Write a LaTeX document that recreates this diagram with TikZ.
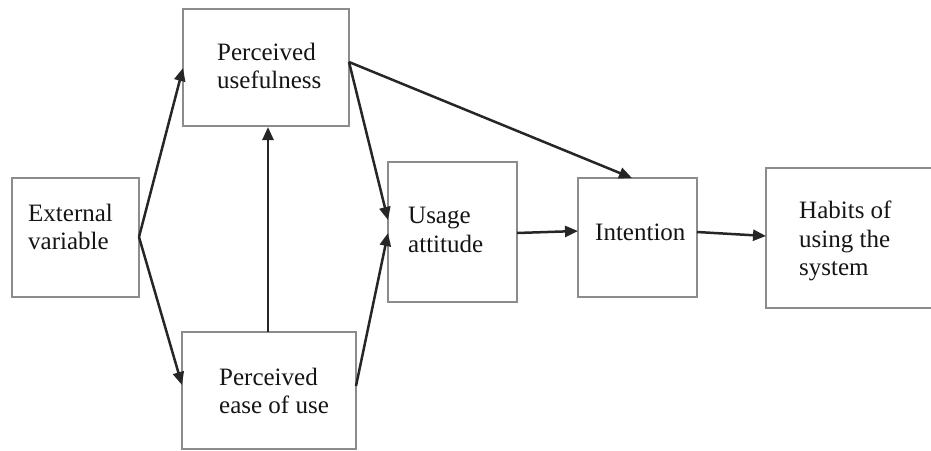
\documentclass[tikz,border=0pt]{standalone}
\usepackage{fontspec}
\setmainfont{Liberation Serif}
\usetikzlibrary{arrows.meta}

\definecolor{boxgray}{HTML}{8C8C8C}
\definecolor{inkline}{HTML}{262626}
\definecolor{inktext}{HTML}{151515}

\begin{document}
\begin{tikzpicture}[x=1pt, y=-1pt,
  box/.style={draw=boxgray, line width=2pt, fill=white, rectangle, inner sep=0pt},
  txt/.style={inner sep=0pt, anchor=west, align=left, text=inktext,
              font=\fontsize{25}{28.5}\selectfont},
  link/.style={draw=inkline, line width=2.5pt,
               -{Triangle[length=13pt, width=11pt]}}
]
  \useasboundingbox (0,0) rectangle (931,450);

  % boxes
  \node[box, minimum width=127pt, minimum height=119pt] (ext) at (75.5,237.5) {};
  \node[box, minimum width=166pt, minimum height=117pt] (pu)  at (266,67.5) {};
  \node[box, minimum width=174pt, minimum height=117pt] (peu) at (269,390.5) {};
  \node[box, minimum width=129pt, minimum height=140pt] (ua)  at (452.5,232) {};
  \node[box, minimum width=119pt, minimum height=119pt] (int) at (637.5,237.5) {};
  \node[box, minimum width=180pt, minimum height=140pt] (hab) at (856,238) {};

  % labels
  \node[txt] (extT) at (28,227) {External\\variable};
  \node[txt] (puT)  at (217,66) {Perceived\\usefulness};
  \node[txt] (peuT) at (219,391) {Perceived\\ease of use};
  \node[txt] (uaT)  at (408,230) {Usage\\attitude};
  \node[txt] (intT) at (595,232) {Intention};
  \node[txt] (habT) at (799,241) {Habits of\\using the\\system};

  % anchor points on the box edges
  \coordinate (extR) at (139,237);
  \coordinate (puL)  at (183,68);
  \coordinate (peuL) at (182,385);
  \coordinate (peuT0) at (268,332);
  \coordinate (puB)  at (268,127);
  \coordinate (puR)  at (349,62);
  \coordinate (uaL1) at (388,220);
  \coordinate (peuR) at (356,386);
  \coordinate (uaL2) at (388,233);
  \coordinate (intTop) at (632,178);
  \coordinate (uaR)  at (517,233);
  \coordinate (intL) at (578,231);
  \coordinate (intR) at (697,232);
  \coordinate (habL) at (766,236);

  % connectors
  \draw[link] (extR) -- (puL);
  \draw[link] (extR) -- (peuL);
  \draw[link] (peuT0) -- (puB);
  \draw[link] (puR) -- (uaL1);
  \draw[link] (peuR) -- (uaL2);
  \draw[link] (puR) -- (intTop);
  \draw[link] (uaR) -- (intL);
  \draw[link] (intR) -- (habL);
\end{tikzpicture}
\end{document}
